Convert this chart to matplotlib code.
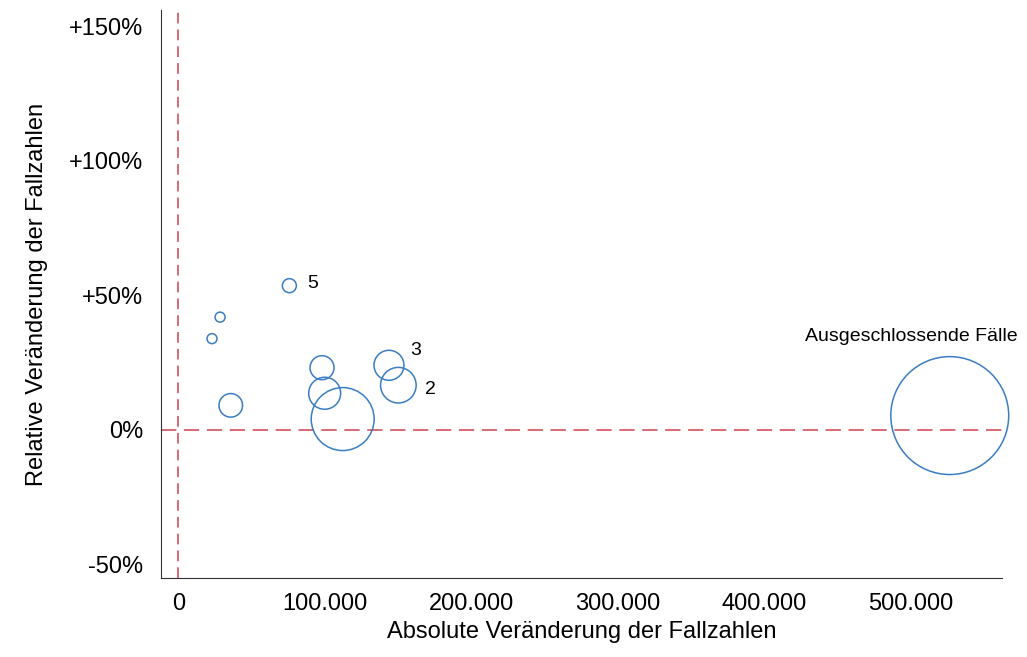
import numpy as np
import matplotlib.pyplot as plt

plt.rcParams['font.family'] = ['Liberation Sans', 'DejaVu Sans']

# Daten: absolute und relative Veränderung, Blasengröße (Fallzahl, relativ)
abs_change = [75800, 28500, 23000, 35800, 98100, 99900, 112200, 143800, 150200, 526600]
rel_change = [53.5, 41.8, 33.8, 9.0, 23.0, 13.5, 3.9, 23.9, 16.5, 5.2]
fallzahl = [49, 25, 25, 139, 144, 256, 992, 225, 317, 3481]
labels = ['5', '', '', '', '', '', '', '3', '2', 'Ausgeschlossende Fälle']

x_ticks = [0, 100000, 200000, 300000, 400000, 500000]
x_ticklabels = ['0', '100.000', '200.000', '300.000', '400.000', '500.000']
y_ticks = [-50, 0, 50, 100, 150]
y_ticklabels = ['-50%', '0%', '+50%', '+100%', '+150%']

fig = plt.figure(figsize=(10.27, 6.57), dpi=100)
ax = fig.add_axes([0.1568, 0.1202, 0.8189, 0.8646])

blau = '#3b7dc4'
rot = '#d0414f'

ax.axvline(0, color=rot, lw=1.1, dashes=(7, 4), zorder=1)
ax.axhline(0, color=rot, lw=1.1, dashes=(10, 5), zorder=1)

ax.scatter(abs_change, rel_change, s=np.array(fallzahl) * 2.07,
           facecolors='none', edgecolors=blau, linewidths=1.1, zorder=3,
           clip_on=False)

# Beschriftungen neben den Blasen
ax.annotate(labels[0], (abs_change[0], rel_change[0]), xytext=(13, 1.5),
            textcoords='offset points', fontsize=14, va='center')
ax.annotate(labels[7], (abs_change[7], rel_change[7]), xytext=(15, 11),
            textcoords='offset points', fontsize=14, va='center')
ax.annotate(labels[8], (abs_change[8], rel_change[8]), xytext=(19, -3),
            textcoords='offset points', fontsize=14, va='center')
ax.annotate(labels[9], (abs_change[9], rel_change[9]), xytext=(-28, 57),
            textcoords='offset points', fontsize=14, ha='center', va='center')

ax.set_xlim(-11800, 562300)
ax.set_ylim(-55.2, 156)
ax.set_xticks(x_ticks)
ax.set_xticklabels(x_ticklabels)
ax.set_yticks(y_ticks)
ax.set_yticklabels(y_ticklabels)
ax.tick_params(length=0, labelsize=17)
ax.tick_params(axis='y', pad=13)
ax.tick_params(axis='x', pad=11)

ax.spines['top'].set_visible(False)
ax.spines['right'].set_visible(False)
ax.spines['left'].set_color('#333333')
ax.spines['bottom'].set_color('#333333')

ax.set_xlabel('Absolute Veränderung der Fallzahlen', fontsize=17, labelpad=4)
ax.set_ylabel('Relative Veränderung der Fallzahlen', fontsize=17, labelpad=15)

fig.savefig('out.png', dpi=100)
